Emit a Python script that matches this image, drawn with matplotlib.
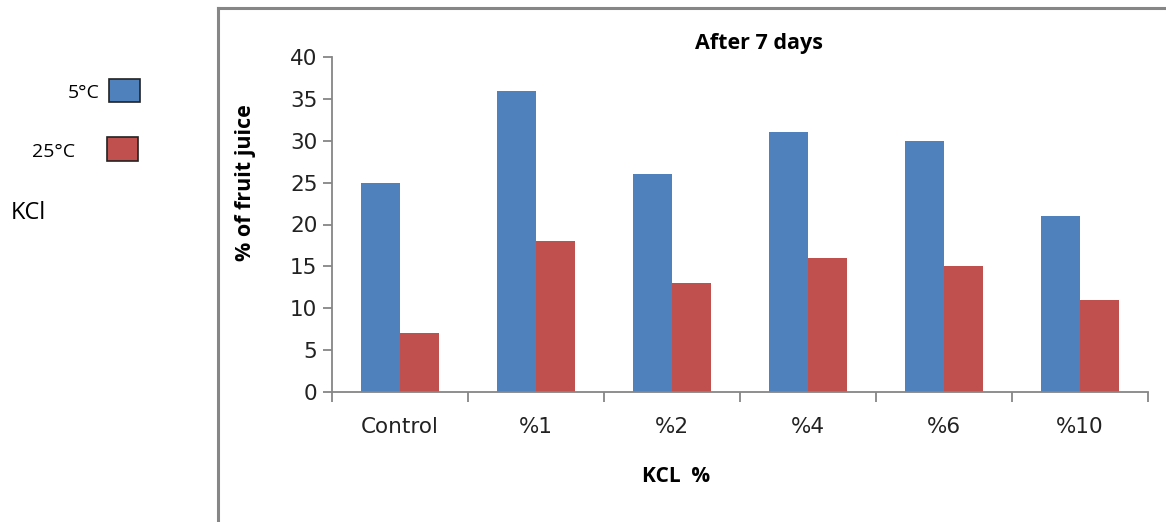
import numpy as np
import matplotlib.pyplot as plt
from matplotlib.patches import Rectangle
from matplotlib.lines import Line2D

# data
categories = ["Control", "%1", "%2", "%4", "%6", "%10"]
temp_5 = [25, 36, 26, 31, 30, 21]
temp_25 = [7, 18, 13, 16, 15, 11]
series_names = ["5\u00b0C", "25\u00b0C"]

W, H = 1166, 522
fig = plt.figure(figsize=(W / 100, H / 100), dpi=100)

def fx(px):
    return px / W

def fy(py):
    return 1 - py / H

blue = "#4F81BD"
red = "#C0504D"
grey = "#868686"

# outer frame of chart area
fig.add_artist(Line2D([fx(218), fx(218)], [fy(8), 0], color=grey, lw=2.2))
fig.add_artist(Line2D([fx(218), 1], [fy(8), fy(8)], color=grey, lw=2.2))

ax = fig.add_axes([fx(332), fy(392), fx(1148) - fx(332), fy(57) - fy(392)])
x = np.arange(len(categories))
w = 0.29
ax.bar(x - w / 2, temp_5, width=w, color=blue)
ax.bar(x + w / 2, temp_25, width=w, color=red)

ax.set_xlim(-0.5, len(categories) - 0.5)
ax.set_ylim(0, 40)
ax.set_yticks(range(0, 41, 5))
ax.set_xticks(x)
ax.set_xticklabels(categories)
ax.set_xticks(np.arange(-0.5, len(categories), 1), minor=True)
ax.tick_params(axis="x", which="major", length=0, pad=18, labelsize=15.5, labelcolor="#222222")
ax.tick_params(axis="x", which="minor", length=7, width=1.3, color=grey, direction="out")
ax.tick_params(axis="y", length=6.5, width=1.3, color=grey, labelsize=15.5, pad=4, labelcolor="#222222")

for s in ["top", "right"]:
    ax.spines[s].set_visible(False)
for s in ["left", "bottom"]:
    ax.spines[s].set_color(grey)
    ax.spines[s].set_linewidth(1.3)

fig.text(fx(759), fy(43), "After 7 days", ha="center", va="center",
         fontsize=15.5, fontweight="bold", family="Open Sans")
fig.text(fx(246), fy(183), "% of fruit juice", ha="center", va="center", rotation=90,
         fontsize=15.5, fontweight="bold", family="Open Sans")
fig.text(fx(676), fy(477), "KCL  %", ha="center", va="center",
         fontsize=15, fontweight="bold", family="Open Sans")

# manual legend on the left
fig.add_artist(Rectangle((fx(109), fy(102)), fx(31), fy(79) - fy(102), facecolor=blue,
                         edgecolor="#222222", lw=1.2, transform=fig.transFigure))
fig.add_artist(Rectangle((fx(107), fy(161)), fx(31), fy(137) - fy(161), facecolor=red,
                         edgecolor="#222222", lw=1.2, transform=fig.transFigure))
fig.text(fx(100), fy(93), series_names[0], ha="right", va="center", fontsize=14, family="Open Sans")
fig.text(fx(75), fy(152), series_names[1], ha="right", va="center", fontsize=14, family="Open Sans")
fig.text(fx(11), fy(213), "KCl", ha="left", va="center", fontsize=17, family="Open Sans")

fig.savefig("out.png", dpi=100)
